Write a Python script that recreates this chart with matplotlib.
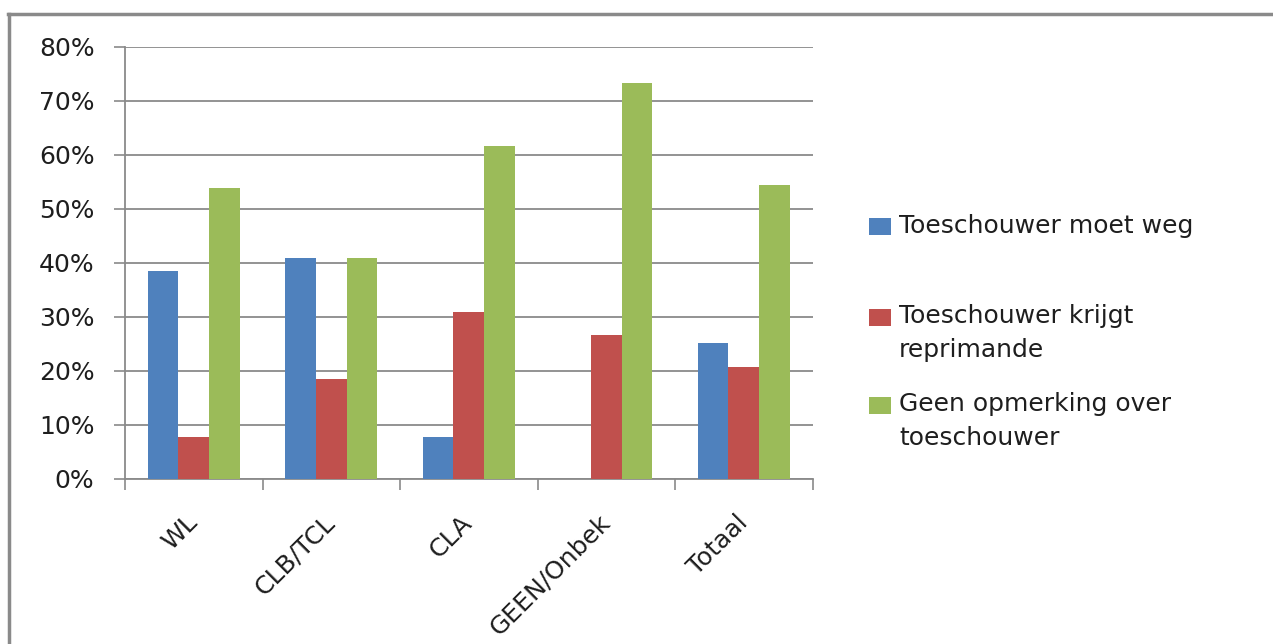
import numpy as np
import matplotlib
matplotlib.use('Agg')
import matplotlib.pyplot as plt
from matplotlib.lines import Line2D
from matplotlib.patches import Rectangle
from matplotlib.ticker import FuncFormatter

categories = ['WL', 'CLB/TCL', 'CLA', 'GEEN/Onbek', 'Totaal']
series_names = ['Toeschouwer moet weg', 'Toeschouwer krijgt\nreprimande',
                'Geen opmerking over\ntoeschouwer']
moet_weg = [38.5, 40.9, 7.7, 0.0, 25.1]
reprimande = [7.7, 18.5, 30.9, 26.7, 20.6]
geen_opmerking = [53.8, 40.9, 61.6, 73.4, 54.5]
colors = ['#4F81BD', '#C0504D', '#9BBB59']
grid_color = '#8A8A8A'
text_color = '#1E1E1E'

W, H = 1273, 644
fig = plt.figure(figsize=(W / 100, H / 100), dpi=100)
fig.patch.set_facecolor('white')
ax = fig.add_axes([125 / W, 1 - 478.6 / H, (812.5 - 125) / W, (478.6 - 47) / H])

x = np.arange(len(categories))
bw = 1 / 4.5
for i, vals in enumerate([moet_weg, reprimande, geen_opmerking]):
    ax.bar(x + (i - 1) * bw, vals, width=bw, color=colors[i], zorder=3)

ax.set_xlim(-0.5, len(categories) - 0.5)
ax.set_ylim(0, 80)
ax.set_yticks(range(0, 81, 10))
ax.yaxis.set_major_formatter(FuncFormatter(lambda v, p: '{:.0f}%'.format(v)))
ax.yaxis.grid(True, color=grid_color, linewidth=1.3, zorder=0)
ax.set_xticks(np.arange(-0.5, len(categories), 1.0))
ax.set_xticklabels([])
ax.set_xticks(x, minor=True)
ax.set_xticklabels(categories, minor=True, rotation=45, ha='right', va='center',
                   rotation_mode='anchor', fontsize=18, color=text_color)
ax.tick_params(axis='x', which='minor', length=0, pad=29)
ax.tick_params(axis='x', which='major', length=8, width=1.2, color=grid_color)
ax.tick_params(axis='y', length=8, width=1.2, color=grid_color, labelsize=18, pad=14,
               labelcolor=text_color)
for s in ['top', 'right']:
    ax.spines[s].set_visible(False)
for s in ['left', 'bottom']:
    ax.spines[s].set_color(grid_color)
    ax.spines[s].set_linewidth(1.3)

# legend
leg_y = [227, 317, 405]
for i, name in enumerate(series_names):
    yc = leg_y[i]
    fig.add_artist(Rectangle((869 / W, 1 - (yc + 8.5) / H), 22 / W, 17 / H,
                             transform=fig.transFigure, facecolor=colors[i],
                             edgecolor='none'))
    fig.text(899 / W, 1 - (yc - 13) / H, name, fontsize=18, va='top', ha='left',
             linespacing=1.55, color=text_color)

# outer frame
fig.add_artist(Line2D([8 / W, 1], [1 - 13.5 / H, 1 - 13.5 / H], transform=fig.transFigure,
                      color=grid_color, linewidth=2.5))
fig.add_artist(Line2D([9 / W, 9 / W], [0, 1 - 13.5 / H], transform=fig.transFigure,
                      color=grid_color, linewidth=2.5))

fig.savefig('out.png', dpi=100)
